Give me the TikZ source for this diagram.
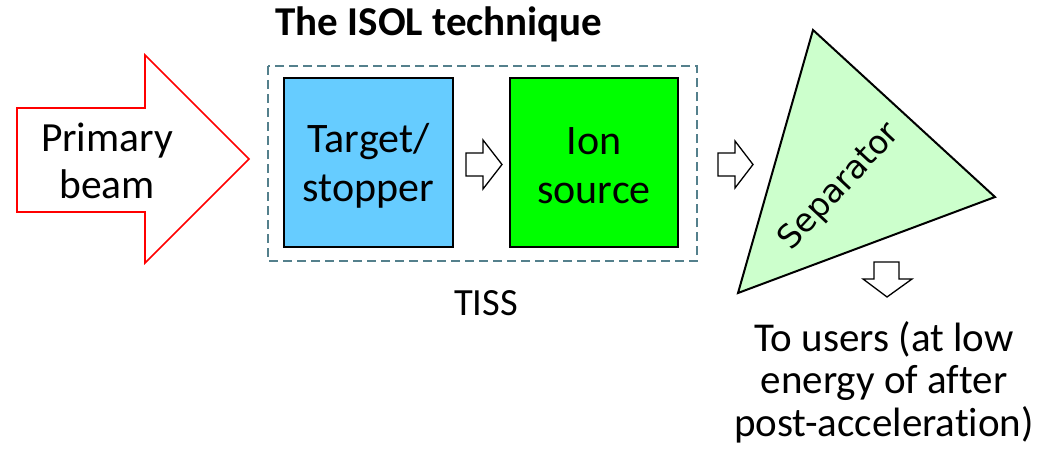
\documentclass[tikz,border=0pt]{standalone}
\usepackage{fontspec}
\setmainfont{Carlito}[Ligatures=NoCommon]
\newfontfamily\sepfont{DejaVu Sans}
\usetikzlibrary{positioning}
\definecolor{tissframe}{RGB}{84,128,140}
\definecolor{tgtblue}{RGB}{102,204,255}
\definecolor{ionsrc}{RGB}{0,255,0}
\definecolor{sepgreen}{RGB}{204,255,204}
\begin{document}
\begin{tikzpicture}[x=1pt,y=-1pt,
	bigtxt/.style={font=\fontsize{41.5}{47}\selectfont,align=center,inner sep=0pt},
	boxtxt/.style={font=\fontsize{42}{49}\selectfont,align=center,inner sep=0pt},
	hollow/.style={draw=black,fill=white,line width=1.3pt,line join=miter}]
	\useasboundingbox (0,0) rectangle (1044,452);
	%primary beam
	\draw[red,line width=1.6pt,fill=white] (17,108)--(145,108)--(145,55)--(249,159)--(145,263)--(145,212)--(17,212)--cycle;
	\node[bigtxt] (beam) at (107,161) {Primary\\beam};
	%TISS
	\draw[tissframe,line width=1.8pt,dash pattern=on 9pt off 5pt] (268,66) rectangle (697,261);
	\node[font=\fontsize{41}{48}\selectfont\bfseries,anchor=base,inner sep=0pt] (title) at (439,36) {The ISOL technique};
	\node[font=\fontsize{38.5}{46}\selectfont,anchor=base,inner sep=0pt] (tiss) at (486,315) {TISS};
	\filldraw[fill=tgtblue,draw=black,line width=1.2pt] (284,78) rectangle (453,247);
	\filldraw[fill=ionsrc,draw=black,line width=1.2pt] (510,78) rectangle (678,247);
	\node[boxtxt] (tgt) at (368.5,166) {Target/\\stopper};
	\node[boxtxt] (ion) at (594,166) {Ion\\source};
	\draw[hollow] (466,153)--(483,153)--(483,140)--(502,164.5)--(483,189)--(483,176)--(466,176)--cycle;
	\draw[hollow] (718,153)--(735,153)--(735,141)--(753,164.5)--(735,188)--(735,176)--(718,176)--cycle;
	%separator
	\coordinate (s1) at (813,30);\coordinate (s2) at (995,197);\coordinate (s3) at (738,293);
	\filldraw[fill=sepgreen,draw=black,line width=2pt,line join=miter] (s1)--(s2)--(s3)--cycle;
	\node[font=\sepfont\fontsize{32.5}{39}\selectfont,rotate=47,inner sep=0pt] (sep) at (840,187) {Separator};
	\draw[hollow] (874,262)--(899,262)--(899,279)--(912,279)--(887,297)--(863,279)--(874,279)--cycle;
	\node[font=\fontsize{41}{42.5}\selectfont,align=center,inner sep=0pt,anchor=north] (users) at (884,321) {To users (at low\\energy of after\\post-acceleration)};
\end{tikzpicture}
\end{document}
